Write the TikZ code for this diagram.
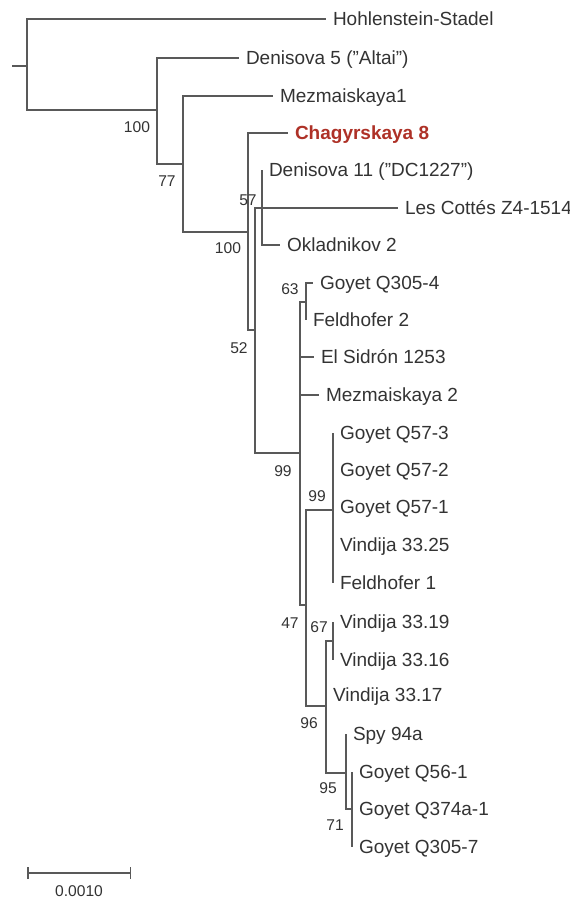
\documentclass[tikz,border=0pt]{standalone}
\usepackage{fontspec}
\setmainfont{Liberation Sans}
\usepackage{xcolor}
\usetikzlibrary{arrows.meta}

\definecolor{treegray}{HTML}{595959}
\definecolor{labelgray}{HTML}{333333}
\definecolor{chagred}{HTML}{AE3127}

\begin{document}
\begin{tikzpicture}[
		x=0.5pt, y=-0.5pt,
		branch/.style={draw=treegray, line width=0.75pt},
		leaf/.style={anchor=west, inner xsep=3.5pt, inner ysep=0pt, outer sep=0pt,
			text=labelgray, font=\fontsize{9.5}{11}\selectfont, text height=6.8pt, text depth=0pt},
		boot/.style={inner sep=0pt, text=labelgray, font=\fontsize{7.8}{9}\selectfont},
		target/.style={leaf, text=chagred, font=\fontsize{9.5}{11}\selectfont\bfseries}
	]
		\useasboundingbox (0,0) rectangle (569,900);
		
		% inner nodes of the tree
		\coordinate (stub) at (12,66);
		\coordinate (root) at (27,66);
		\coordinate (n1) at (157,110);
		\coordinate (n2) at (183,164);
		\coordinate (nA) at (248,232);
		\coordinate (nB) at (255,330);
		\coordinate (nC) at (262,208);
		\coordinate (nD) at (300,453);
		\coordinate (nE) at (306,302);
		\coordinate (nF) at (306,605);
		\coordinate (nK) at (333,510);
		\coordinate (nJ) at (326,706);
		\coordinate (nG) at (333,641);
		\coordinate (nH) at (346,773);
		\coordinate (nI) at (352,809);
		
		% leaves
		\node[leaf] (hs) at (326,19) {Hohlenstein-Stadel};
		\node[leaf] (d5) at (239,58) {Denisova 5 (”Altai”)};
		\node[leaf] (m1) at (273,96) {Mezmaiskaya1};
		\node[target] (ch8) at (288,133) {Chagyrskaya 8};
		\node[leaf] (d11) at (262,170) {Denisova 11 (”DC1227”)};
		\node[leaf] (lc) at (398,208) {Les Cottés Z4-1514};
		\node[leaf] (ok) at (280,245) {Okladnikov 2};
		\node[leaf] (gq3054) at (313,283) {Goyet Q305-4};
		\node[leaf] (fh2) at (306,320) {Feldhofer 2};
		\node[leaf] (es) at (314,357) {El Sidrón 1253};
		\node[leaf] (m2) at (319,395) {Mezmaiskaya 2};
		\node[leaf] (q573) at (333,433) {Goyet Q57-3};
		\node[leaf] (q572) at (333,470) {Goyet Q57-2};
		\node[leaf] (q571) at (333,507) {Goyet Q57-1};
		\node[leaf] (v3325) at (333,545) {Vindija 33.25};
		\node[leaf] (fh1) at (333,583) {Feldhofer 1};
		\node[leaf] (v3319) at (333,622) {Vindija 33.19};
		\node[leaf] (v3316) at (333,660) {Vindija 33.16};
		\node[leaf] (v3317) at (326,695) {Vindija 33.17};
		\node[leaf] (spy) at (346,734) {Spy 94a};
		\node[leaf] (q561) at (352,772) {Goyet Q56-1};
		\node[leaf] (q374) at (352,809) {Goyet Q374a-1};
		\node[leaf] (q3057) at (352,847) {Goyet Q305-7};
		
		% branches
		\draw[branch] (stub) -- (root);
		\draw[branch] (root) |- (hs.west);
		\draw[branch] (root) |- (n1);
		\draw[branch] (n1) |- (d5.west);
		\draw[branch] (n1) |- (n2);
		\draw[branch] (n2) |- (m1.west);
		\draw[branch] (n2) |- (nA);
		\draw[branch] (nA) |- (ch8.west);
		\draw[branch] (nA) |- (nB);
		\draw[branch] (nB) |- (nC);
		\draw[branch] (nB) |- (nD);
		\draw[branch] (nC) |- (d11.west);
		\draw[branch] (nC) |- (lc.west);
		\draw[branch] (nC) |- (ok.west);
		\draw[branch] (nD) |- (nE);
		\draw[branch] (nD) |- (es.west);
		\draw[branch] (nD) |- (m2.west);
		\draw[branch] (nD) |- (nF);
		\draw[branch] (nE) |- (gq3054.west);
		\draw[branch] (nE) |- (fh2.west);
		\draw[branch] (nF) |- (nK);
		\draw[branch] (nF) |- (nJ);
		\draw[branch] (nK) |- (q573.west);
		\draw[branch] (nK) |- (q572.west);
		\draw[branch] (nK) |- (q571.west);
		\draw[branch] (nK) |- (v3325.west);
		\draw[branch] (nK) |- (fh1.west);
		\draw[branch] (nJ) |- (nG);
		\draw[branch] (nJ) |- (v3317.west);
		\draw[branch] (nJ) |- (nH);
		\draw[branch] (nG) |- (v3319.west);
		\draw[branch] (nG) |- (v3316.west);
		\draw[branch] (nH) |- (spy.west);
		\draw[branch] (nH) |- (nI);
		\draw[branch] (nI) |- (q561.west);
		\draw[branch] (nI) |- (q374.west);
		\draw[branch] (nI) |- (q3057.west);
		
		% bootstrap values
		\node[boot] (b1) at (137,127) {100};
		\node[boot] (b2) at (167,181) {77};
		\node[boot] (bA) at (228,248) {100};
		\node[boot] (bC) at (248,200) {57};
		\node[boot] (bB) at (239,348) {52};
		\node[boot] (bE) at (290,289) {63};
		\node[boot] (bD) at (283,471) {99};
		\node[boot] (bK) at (317,496) {99};
		\node[boot] (bF) at (290,623) {47};
		\node[boot] (bG) at (319,627) {67};
		\node[boot] (bJ) at (309,723) {96};
		\node[boot] (bH) at (328,788) {95};
		\node[boot] (bI) at (335,825) {71};
		
		% scale bar
		\coordinate (sb0) at (27,873);
		\coordinate (sb1) at (131,873);
		\draw[branch, {Bar[width=6pt]}-{Bar[width=6pt]}] (sb0) -- (sb1);
		\node[boot] (sblabel) at (79,891) {0.0010};
	\end{tikzpicture}
\end{document}
